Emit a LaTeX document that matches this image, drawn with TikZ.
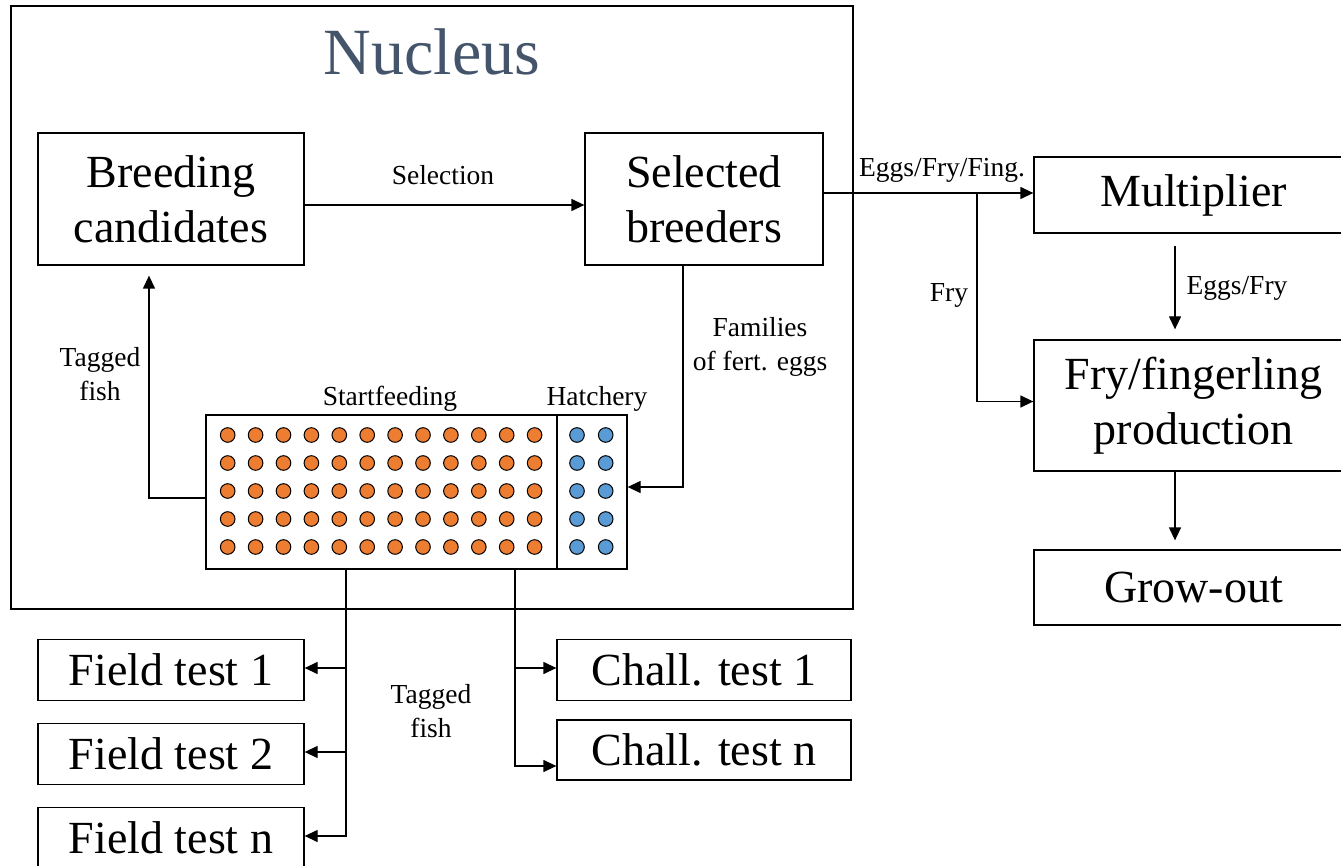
\documentclass[tikz,border=0pt]{standalone}
\usepackage{fontspec}
\setmainfont{Liberation Serif}
\usetikzlibrary{arrows.meta}
\newcommand\bigfs{\fontsize{46}{55}\selectfont}
\newcommand\smfs{\fontsize{27.5}{34}\selectfont}
\newcommand\nucfs{\fontsize{66}{70}\selectfont}
\definecolor{nuc}{HTML}{44546A}
\definecolor{orng}{HTML}{ED7D31}
\definecolor{blu}{HTML}{5B9BD5}
\tikzset{
  box/.style={draw, line width=1.3pt, inner sep=0pt, align=center, font=\bigfs},
  lbl/.style={inner sep=0pt, align=center, font=\smfs},
  conn/.style={line width=1.3pt},
  arr/.style={line width=1.3pt, -{Triangle[length=13pt,width=12pt]}},
  odot/.style={draw, line width=1pt, fill=orng},
  bdot/.style={draw, line width=1pt, fill=blu},
}
\begin{document}
\begin{tikzpicture}[x=1pt,y=-1pt]
\useasboundingbox (0,0) rectangle (1341,866);
% nucleus
\node[box, minimum width=842pt, minimum height=603pt] (nucleus) at (432,307.5) {};
\node[inner sep=0pt, font=\nucfs, text=nuc] (title) at (432,52) {Nucleus};
% boxes
\node[box, minimum width=266pt, minimum height=132pt] (bc) at (171,199) {Breeding\\candidates};
\node[box, minimum width=238pt, minimum height=132pt] (sb) at (704,199) {Selected\\breeders};
\node[box, minimum width=319pt, minimum height=76pt] (mult) at (1193.5,195) {Multiplier};
\node[box, minimum width=319pt, minimum height=131pt] (fry) at (1193.5,405.5) {Fry/fingerling\\production};
\node[box, minimum width=319pt, minimum height=75pt] (grow) at (1193.5,587.5) {Grow-out};
\node[box, minimum width=421pt, minimum height=154pt] (tank) at (416.5,492) {};
\draw[conn] (557,415) coordinate (divt) -- (557,569) coordinate (divb);
\node[box, minimum width=266pt, minimum height=61pt] (ft1) at (171,670) {Field test 1};
\node[box, minimum width=266pt, minimum height=61pt] (ft2) at (171,754) {Field test 2};
\node[box, minimum width=266pt, minimum height=61pt] (ft3) at (171,838) {Field test n};
\node[box, minimum width=294pt, minimum height=61pt] (ct1) at (704,670) {Chall. test 1};
\node[box, minimum width=294pt, minimum height=60pt] (ct2) at (704,750) {Chall. test n};
% dots
\foreach \i in {0,...,11}{
  \foreach \j in {0,...,4}{
    \path[odot] (227.7+27.9*\i, 435+28*\j) circle[radius=7.3pt];
  }
}
\foreach \xx in {577,605.7}{
  \foreach \j in {0,...,4}{
    \path[bdot] (\xx, 435+28*\j) circle[radius=7.3pt];
  }
}
% labels
\node[lbl] (lsel) at (443,175) {Selection};
\node[lbl] (legg) at (942,170) {Eggs/Fry/Fing.};
\node[lbl] (lfry) at (949,295) {Fry};
\node[lbl] (lef) at (1237,288) {Eggs/Fry};
\node[lbl] (lfam) at (760,347) {Families\\of fert. eggs};
\node[lbl] (lsf) at (390,399) {Startfeeding};
\node[lbl] (lhat) at (597,399) {Hatchery};
\node[lbl] (ltag1) at (100,374) {Tagged\\fish};
\node[lbl] (ltag2) at (431,711) {Tagged\\fish};
% connectors
\draw[arr] ([yshift=-6pt]bc.east) -- ([yshift=-6pt]sb.west);
\draw[arr] ([yshift=6pt]sb.east) -- ([yshift=2pt]mult.west);
\coordinate (fb) at (977,193);
\draw[arr] (fb) |- ([yshift=4pt]fry.west);
\draw[arr] ([xshift=-18.5pt,yshift=-12pt]mult.south) -- ([xshift=-18.5pt,yshift=10pt]fry.north);
\draw[arr] ([xshift=-18.5pt]fry.south) -- ([xshift=-18.5pt,yshift=9pt]grow.north);
\draw[arr] ([xshift=-21pt]sb.south) |- ([yshift=5pt]tank.east);
\draw[arr] ([yshift=-6pt]tank.west) -| ([xshift=-22pt,yshift=-10pt]bc.south);
\coordinate (fa) at ([xshift=-70.5pt]tank.south);
\draw[conn] (fa) -- (346,836);
\draw[arr] (fa) |- ([yshift=2pt]ft1.east);
\draw[arr] (fa) |- ([yshift=2pt]ft2.east);
\draw[arr] (fa) |- ([yshift=2pt]ft3.east);
\coordinate (ca) at ([xshift=98.5pt]tank.south);
\draw[arr] (ca) |- ([yshift=2pt]ct1.west);
\draw[arr] (ca) |- ([yshift=-16pt]ct2.west);
\end{tikzpicture}
\end{document}
